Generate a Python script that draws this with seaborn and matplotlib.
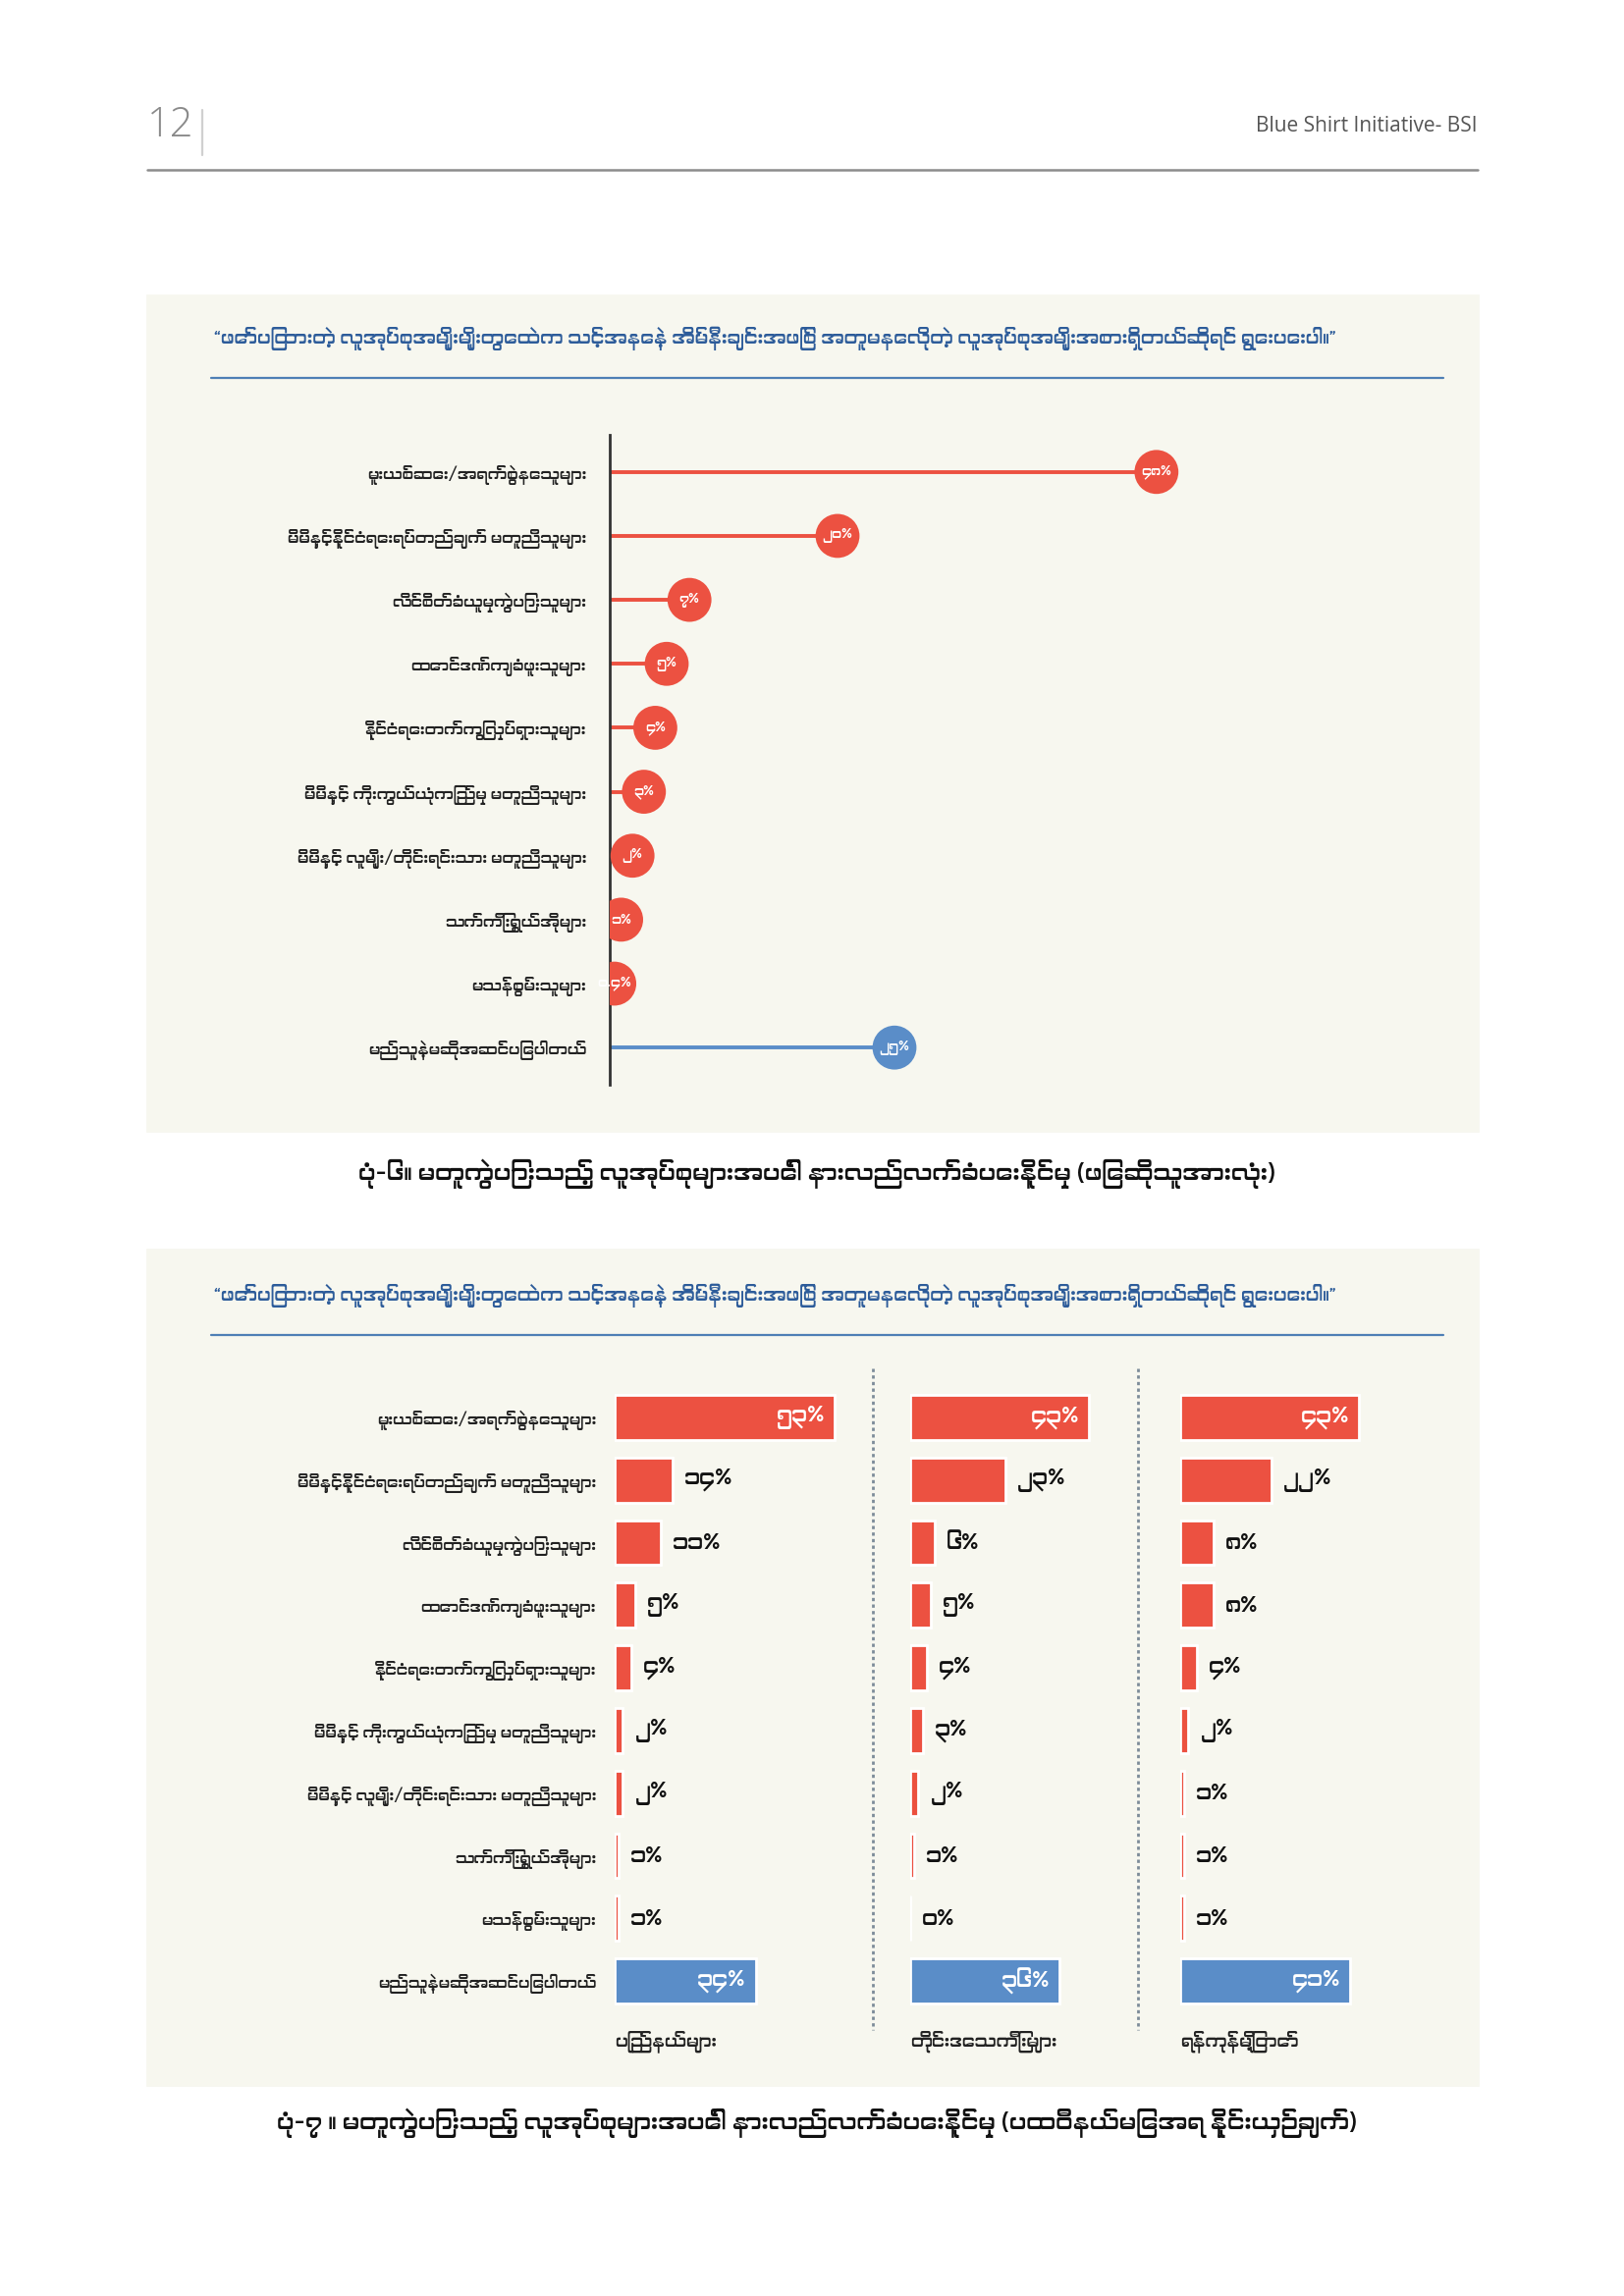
import numpy as np
import pandas as pd
import matplotlib
matplotlib.use("Agg")
import matplotlib.pyplot as plt
from matplotlib import font_manager
from matplotlib.patches import Rectangle
from matplotlib.lines import Line2D
import seaborn as sns

# ---- data ----
question = ("“ဖော်ပြထားတဲ့ လူအုပ်စုအမျိုးမျိုးတွေထဲက သင့်အနေနဲ့ အိမ်နီးချင်းအဖြစ် "
            "အတူမနေလိုတဲ့ လူအုပ်စုအမျိုးအစားရှိတယ်ဆိုရင် ရွေးပေးပါ။”")

groups = [
    "မူးယစ်ဆေး/အရက်စွဲနေသူများ",
    "မိမိနှင့်နိုင်ငံရေးရပ်တည်ချက် မတူညီသူများ",
    "လိင်စိတ်ခံယူမှုကွဲပြားသူများ",
    "ထောင်ဒဏ်ကျခံဖူးသူများ",
    "နိုင်ငံရေးတက်ကြွလှုပ်ရှားသူများ",
    "မိမိနှင့် ကိုးကွယ်ယုံကြည်မှု မတူညီသူများ",
    "မိမိနှင့် လူမျိုး/တိုင်းရင်းသား မတူညီသူများ",
    "သက်ကြီးရွယ်အိုများ",
    "မသန်စွမ်းသူများ",
    "မည်သူနဲ့မဆိုအဆင်ပြေပါတယ်",
]

all_respondents = [48, 20, 7, 5, 4, 3, 2, 1, 0.4, 25]

regions = ["ပြည်နယ်များ", "တိုင်းဒေသကြီးများ", "ရန်ကုန်မြို့တော်"]
states = [53, 14, 11, 5, 4, 2, 2, 1, 1, 34]
divisions = [43, 23, 6, 5, 4, 3, 2, 1, 0, 36]
yangon = [43, 22, 8, 8, 4, 2, 1, 1, 1, 41]

caption_1 = "ပုံ-၆။ မတူကွဲပြားသည့် လူအုပ်စုများအပေါ် နားလည်လက်ခံပေးနိုင်မှု (ဖြေဆိုသူအားလုံး)"
caption_2 = "ပုံ-၇ ။ မတူကွဲပြားသည့် လူအုပ်စုများအပေါ် နားလည်လက်ခံပေးနိုင်မှု (ပထဝီနယ်မြေအရ နှိုင်းယှဉ်ချက်)"

page_number = "12"
running_head = "Blue Shirt Initiative- BSI"

RED = "#EC5141"
BLUE = "#5A8DC8"
PANEL_BG = "#F7F7EF"
Q_BLUE = "#2D5C9A"

# ---- fonts ----
sns.set_theme(style="white")
mm_fonts = sorted({f.name for f in font_manager.fontManager.ttflist
                   if any(k in f.name for k in ("Myanmar", "Padauk", "Pyidaungsu", "Zawgyi"))})
plt.rcParams["font.family"] = mm_fonts + ["Noto Sans", "DejaVu Sans"]

MM_DIGITS = str.maketrans("0123456789", "၀၁၂၃၄၅၆၇၈၉")


def mm_pct(v):
    s = f"{v:g}"
    return s.translate(MM_DIGITS) + "%"


W, H = 1654, 2339
RIGHT = 1505
fig = plt.figure(figsize=(W / 200, H / 200), dpi=200)
fig.patch.set_facecolor("white")


def box(x0, y0, x1, y1):
    return [x0 / W, 1 - y1 / H, (x1 - x0) / W, (y1 - y0) / H]


def fx(x):
    return x / W


def fy(y):
    return 1 - y / H


# ---- page header ----
fig.text(fx(150), fy(128), page_number, fontsize=15, color="#8a8a8a",
         family=["Open Sans", "DejaVu Sans"], fontweight="light", va="center", ha="left")
fig.add_artist(Line2D([fx(206), fx(206)], [fy(112), fy(158)], color="#d0d0d0", lw=0.8))
fig.text(fx(RIGHT), fy(128), running_head, fontsize=7.5, color="#555555",
         family=["Open Sans", "DejaVu Sans"], va="center", ha="right")
fig.add_artist(Line2D([fx(150), fx(RIGHT)], [fy(173), fy(173)], color="#8c8c8c", lw=0.9))

# ---- panel backgrounds ----
for y0, y1 in [(301, 1152), (1273, 2124)]:
    fig.add_artist(Rectangle((fx(150), fy(y1)), fx(RIGHT) - fx(150), fy(y0) - fy(y1),
                             transform=fig.transFigure, color=PANEL_BG, zorder=0))

for qy, ly in [(345, 385), (1320, 1360)]:
    fig.text(fx(218), fy(qy), question, fontsize=6.8, color=Q_BLUE, style="italic",
             fontweight="light", va="center", ha="left")
    fig.add_artist(Line2D([fx(215), fx(1470)], [fy(ly), fy(ly)], color="#4E7FB5", lw=0.8))

# ---- top chart: lollipop, all respondents ----
top = pd.DataFrame({"group": groups, "value": all_respondents})
top["pos"] = np.arange(len(top))
top["kind"] = ["avoid"] * (len(top) - 1) + ["any"]
top_colors = {"avoid": RED, "any": BLUE}

ax = fig.add_axes(box(621, 443, 1433, 1105))
ax.set_facecolor("none")
ax.hlines(top["pos"], 0, top["value"], colors=[top_colors[k] for k in top["kind"]], lw=1.4, zorder=1)
sns.scatterplot(data=top, x="value", y="pos", hue="kind", palette=top_colors, s=260,
                edgecolor="none", legend=False, ax=ax, zorder=3)
for _, r in top.iterrows():
    ax.text(r["value"], r["pos"], mm_pct(r["value"]), ha="center", va="center",
            color="white", fontsize=5, fontweight="light", zorder=4)
ax.set_xlim(0, 70)
ax.set_ylim(9.58, -0.58)
ax.set_yticks(top["pos"])
ax.set_yticklabels(top["group"], fontsize=5.7, color="#222222", fontweight="light")
ax.tick_params(axis="y", length=0, pad=8.6)
ax.set_xticks([])
ax.set_xlabel("")
ax.set_ylabel("")
for side in ["top", "right", "bottom"]:
    ax.spines[side].set_visible(False)
ax.spines["left"].set_color("#333333")
ax.spines["left"].set_linewidth(1.0)

fig.text(fx(832), fy(1196), caption_1, fontsize=8.7, color="#111111", fontweight="light",
         ha="center", va="center")

# ---- bottom chart: bars by region ----
bar_colors = [RED] * (len(groups) - 1) + [BLUE]
panel_left = [626, 927, 1202]
y_top, y_bot = 1412, 2050
for k, (region, vals) in enumerate(zip(regions, [states, divisions, yangon])):
    df = pd.DataFrame({"group": groups, "value": vals})
    axb = fig.add_axes(box(panel_left[k], y_top, panel_left[k] + 58 * 4.23, y_bot))
    axb.set_facecolor("none")
    sns.barplot(data=df, x="value", y="group", hue="group", palette=bar_colors,
                orient="h", width=0.72, legend=False, ax=axb, saturation=1)
    axb.set_xlim(0, 58)
    axb.set_ylim(9.5, -0.5)
    for i, v in enumerate(vals):
        if v > 30:
            axb.annotate(mm_pct(v), (v, i), xytext=(-3.6, 0), textcoords="offset points",
                         ha="right", va="center", color="white", fontsize=8, fontweight="bold")
        else:
            axb.annotate(mm_pct(v), (v, i), xytext=(4.3, 0), textcoords="offset points",
                         ha="left", va="center", color="#111111", fontsize=8, fontweight="bold")
    if k == 0:
        axb.tick_params(axis="y", length=0, pad=6.8, labelsize=5.7, labelcolor="#222222")
        for t in axb.get_yticklabels():
            t.set_fontweight("light")
    else:
        axb.set_yticks([])
    axb.set_xticks([])
    axb.set_xlabel("")
    axb.set_ylabel("")
    for s in axb.spines.values():
        s.set_visible(False)
    axb.text(0, 1.0 - (2080 - y_top) / (y_bot - y_top), region, transform=axb.transAxes,
             ha="left", va="center", fontsize=6.4, fontweight="light", color="#222222")

for sx in [889, 1159]:
    fig.add_artist(Line2D([fx(sx), fx(sx)], [fy(1394), fy(2068)], color="#7d8c99",
                          lw=1.0, linestyle=(0, (1.2, 1.2))))

fig.text(fx(832), fy(2163), caption_2, fontsize=8.7, color="#111111", fontweight="light",
         ha="center", va="center")

fig.savefig("out.png", dpi=200, facecolor="white")
